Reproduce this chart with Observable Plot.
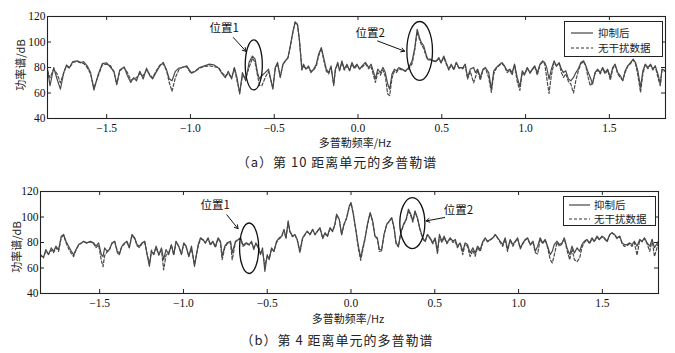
<!DOCTYPE html>
<html><head><meta charset="utf-8">
<script src="https://cdn.jsdelivr.net/npm/d3@7"></script>
<script src="https://cdn.jsdelivr.net/npm/@observablehq/plot@0.6"></script>
<style>
body{margin:0;background:#fff;}
#wrap{position:relative;width:675px;height:353px;background:#fff;overflow:hidden;}
.abs{position:absolute;}
.cjk{font-family:"Noto Sans CJK SC","Noto Sans",sans-serif;color:#222;}
.ytitle{width:100px;height:16px;line-height:16px;text-align:center;font-size:11px;transform:rotate(-90deg);}
.xtitle{width:200px;text-align:center;font-size:11px;line-height:14px;}
.cap{width:400px;text-align:center;font-size:13px;letter-spacing:1px;line-height:16px;}
.legend{border:1px solid #222;background:#fff;}
.legend .row{position:absolute;left:0;height:12px;line-height:12px;font-size:10.5px;}
</style></head>
<body><div id="wrap"></div>
<script>
// ---------- panel (a): range cell 10 ----------
const freqA = [-1.853,-1.838,-1.816,-1.796,-1.776,-1.756,-1.74,-1.722,-1.702,-1.676,-1.656,-1.636,-1.616,-1.596,-1.576,-1.55,-1.526,-1.5,-1.476,-1.456,-1.44,-1.422,-1.396,-1.376,-1.356,-1.34,-1.322,-1.302,-1.282,-1.262,-1.242,-1.226,-1.206,-1.182,-1.162,-1.142,-1.126,-1.11,-1.09,-1.07,-1.046,-1.022,-0.996,-0.972,-0.946,-0.916,-0.886,-0.856,-0.832,-0.812,-0.792,-0.774,-0.754,-0.738,-0.722,-0.706,-0.69,-0.67,-0.65,-0.63,-0.614,-0.6,-0.588,-0.574,-0.554,-0.534,-0.508,-0.494,-0.48,-0.464,-0.448,-0.434,-0.418,-0.404,-0.388,-0.375,-0.361,-0.349,-0.335,-0.325,-0.311,-0.295,-0.281,-0.265,-0.249,-0.235,-0.219,-0.205,-0.189,-0.175,-0.161,-0.145,-0.135,-0.121,-0.11,-0.096,-0.082,-0.066,-0.05,-0.036,-0.022,-0.006,0.01,0.024,0.044,0.064,0.078,0.094,0.104,0.118,0.133,0.149,0.163,0.177,0.189,0.203,0.217,0.229,0.243,0.263,0.283,0.303,0.323,0.339,0.353,0.367,0.378,0.392,0.406,0.416,0.432,0.452,0.468,0.482,0.496,0.512,0.526,0.542,0.556,0.572,0.586,0.602,0.626,0.64,0.654,0.67,0.69,0.7,0.714,0.73,0.746,0.76,0.78,0.796,0.81,0.826,0.846,0.86,0.874,0.89,0.906,0.92,0.934,0.95,0.966,0.98,0.994,1.01,1.026,1.04,1.054,1.07,1.086,1.102,1.114,1.126,1.14,1.154,1.17,1.184,1.2,1.214,1.226,1.24,1.256,1.27,1.286,1.3,1.314,1.33,1.346,1.36,1.37,1.386,1.4,1.414,1.43,1.446,1.46,1.474,1.49,1.506,1.52,1.534,1.55,1.566,1.58,1.594,1.61,1.626,1.642,1.656,1.67,1.686,1.7,1.714,1.73,1.746,1.76,1.774,1.79,1.804,1.814,1.835];
const suppressedA = [78.7,65.7,80,71,63,76,82,80,84.7,85.2,84,84.4,81.3,76,62.3,74.8,83,83.6,80,77,67,78,80.5,73.5,68.3,72,69.6,77,71,79.5,73.5,71,76,81.3,84,78,71,69.6,77,79.5,80,81.3,76,77,80,81.3,82.6,81.8,79.5,75.3,72,77,71,80,72,59.2,76,69.6,84,89,86.5,76,71,73.5,76,78.7,63,80,84,72,82.6,85.2,87.8,97,108.6,115.8,113.8,100.8,78.7,82.6,78.7,81.3,76,78.7,82.6,90.4,95.6,87.8,78.7,76,81.3,65.7,78.7,84,77.4,85.2,78.7,82.6,77.4,84,80,82.6,78.7,81.3,84,80,82.6,76,71,78.7,76,80,76,67,63,74.8,78.7,77.4,80,78.7,77.4,80,85.2,95.6,110,103.4,99.5,97,90.4,86.5,86.5,85.2,85.2,87.8,84,89,84,78.7,82.6,78.7,84,80,80,82.6,72.2,78.7,80,76,78.7,72.2,78.7,80,76,63,77.4,80,82.6,83.9,81.3,77.4,78.7,76,82.6,72.2,64.9,77.4,74.8,80,76,78.7,81.3,76,82.6,85.2,83.9,80,70.9,78.7,85.2,81.3,83.9,78.7,76,77.4,70.9,69.6,72.2,76,78.7,83.9,85.2,81.3,77.4,72.2,67,76,78.7,76,80,76,78.7,72.2,80,82.6,76,73.5,69.6,77.4,81.3,83.9,86.5,83.9,77.4,64.4,77.4,82.6,80,82.6,78.7,81.3,74.8,67,78.7,77.4];
const cleanA = [77.4,72,78.7,75,68,76,81,79.5,84,84.7,83.6,83,80,75,64,73.5,82,82.6,81.3,76,66.5,77.4,80,76,70,71,72,75.3,73.5,78,74.3,72,77,82,83,77.4,68,61.3,72,78,80.5,80.5,75.3,77,79.5,80.8,81.3,80.5,80,76,73.5,75,72,79.5,69.6,60.5,73.5,72,80,87.3,84,74,66,65.7,72,77,64,79,83,73,82,85,87.5,96.5,108,115.5,113.5,100.5,78,81,79,80,77,78,81,89,95,86,77,75,80,67,78,83,78,84,78,81,78,83,79,81.5,79,80,83,79,81,73,68.3,76,74,78,73,59.2,58,72,77,76,79,78,77,79,83,94,108,102,98,95,89,86,86,85,84.5,87,83.5,88,83,78,82,78,83.5,79.5,79,82,70.9,77,68,72,78,70,78,79.5,72,60.5,75,79.5,82,83,81,76,78,74,82,69,62,76,74,79.5,75.5,78,81,74,82,84.5,83,72,59.7,74,84,81,83,76,72.2,75,69,67,60,70,77,83,84.5,81,74,65.7,68.3,75,78,75,79.5,75,78,70,79,82,75,72,70,76,81,83,86,83,74,60.5,75,82,79,82,78,81,72,65.7,78,77];
// ---------- panel (b): range cell 4 ----------
const freqB = [-1.852,-1.835,-1.821,-1.805,-1.789,-1.775,-1.761,-1.745,-1.729,-1.715,-1.701,-1.685,-1.669,-1.655,-1.641,-1.625,-1.61,-1.596,-1.576,-1.556,-1.536,-1.522,-1.506,-1.49,-1.48,-1.47,-1.456,-1.442,-1.426,-1.41,-1.394,-1.382,-1.367,-1.351,-1.337,-1.323,-1.307,-1.291,-1.277,-1.263,-1.247,-1.231,-1.217,-1.203,-1.191,-1.177,-1.163,-1.147,-1.131,-1.118,-1.104,-1.088,-1.072,-1.058,-1.044,-1.028,-1.012,-0.998,-0.984,-0.968,-0.952,-0.934,-0.912,-0.898,-0.884,-0.869,-0.853,-0.839,-0.825,-0.809,-0.793,-0.779,-0.769,-0.753,-0.739,-0.719,-0.709,-0.689,-0.673,-0.659,-0.645,-0.624,-0.608,-0.594,-0.58,-0.568,-0.554,-0.54,-0.528,-0.514,-0.5,-0.488,-0.474,-0.46,-0.444,-0.428,-0.414,-0.4,-0.388,-0.375,-0.365,-0.349,-0.335,-0.321,-0.305,-0.289,-0.275,-0.261,-0.245,-0.229,-0.215,-0.201,-0.185,-0.169,-0.155,-0.141,-0.125,-0.11,-0.096,-0.086,-0.07,-0.056,-0.042,-0.026,-0.01,0,0.014,0.03,0.044,0.058,0.07,0.084,0.098,0.114,0.129,0.143,0.157,0.169,0.183,0.197,0.213,0.229,0.243,0.257,0.269,0.283,0.297,0.313,0.329,0.343,0.357,0.369,0.382,0.396,0.412,0.428,0.442,0.456,0.472,0.488,0.502,0.516,0.528,0.542,0.556,0.572,0.592,0.608,0.622,0.635,0.651,0.667,0.681,0.695,0.711,0.727,0.741,0.755,0.771,0.787,0.801,0.815,0.831,0.847,0.861,0.875,0.89,0.906,0.92,0.934,0.95,0.966,0.98,0.994,1.01,1.026,1.04,1.054,1.07,1.086,1.1,1.114,1.129,1.143,1.159,1.173,1.189,1.201,1.213,1.229,1.245,1.259,1.273,1.289,1.305,1.319,1.333,1.349,1.365,1.378,1.392,1.408,1.424,1.438,1.452,1.468,1.482,1.498,1.512,1.528,1.544,1.558,1.572,1.588,1.604,1.618,1.631,1.647,1.663,1.677,1.691,1.707,1.723,1.737,1.751,1.767,1.783,1.797,1.811,1.835];
const suppressedB = [70.5,67.9,74.5,70.5,75.8,73.1,77.1,74.5,85,86.3,81,77.1,73.1,70.5,74.5,78.4,79.7,81,79.7,81,79.7,77.1,79.7,70.5,69,75.8,73.1,74.5,79.7,81,71.8,70.5,77.1,79.7,81,75.8,86.3,83.7,78.4,77.1,79.7,81,70.5,61.3,73.1,70.5,77.1,70.5,75.8,66.5,74.5,70.5,78.4,70.5,81,77.1,70.5,79.7,77.1,69.2,77.1,61.3,78.4,83.7,82.4,79.7,83.7,78.4,81,77.1,83.7,81,69.2,77.1,79.7,81,71.8,81,82.4,83.7,78,79.7,78.4,81,74.5,79.7,75.8,70.5,75.8,57.3,70.5,66.5,75.8,73.1,81,83.7,85,90.3,83.7,96.9,89,85,86.3,82.4,73.1,83.7,86.3,89,86.3,90.3,86.3,89,91.6,83.7,87.7,85,91.6,89,94.2,102.2,98.2,86.3,94.2,99.5,108.8,111.4,102.2,89,77.1,67.9,75.8,83.7,94.2,103.5,96.9,85,83.7,74.5,74.5,86.3,94.2,96.9,99.5,91.6,79.7,77.1,87.7,94.2,98.2,106.1,102.2,96.9,104.8,99.5,90.3,83.7,81,86.3,83.7,79.7,83.7,73.1,86.3,81,85,79.7,83.7,81,82.4,77.1,79.7,73.1,79.7,78.4,71.8,75.8,71.8,77.1,74.5,81,83.7,81,82.4,83.7,86.3,83.7,81,78.4,83.7,74.5,82.4,78.4,81,83.7,75.8,79.7,82.4,83.7,78.4,81,73.1,77.1,83.7,79.7,82.4,77.1,70.5,73.1,78.4,81,78.4,79.7,83.7,75.8,70.5,77.1,71.8,75.8,73.1,78.4,81,82.4,79.7,83.7,81,85,82.4,85,83.7,81,86.3,87.7,86.3,83.7,85,79.7,78.4,78.4,79.7,78.4,81,77.1,82.4,81,83.7,79.7,77.1,82.4,76,81];
const cleanB = [69,69.2,73,71,74,72,76,73,84,85.5,80,75,71.5,69,74,78,79.5,80.5,79.5,80.5,79,76,78,66,61,70,72.5,74,79.5,80.5,73,72,77,79,80,76,85.5,83,77.5,76,79,80,71,63,74,71,76,70,74,58.6,70,72,78,70,80.5,77,71,79,76.5,69,75,63,77,83,82,79.5,83,78,80.5,76,83,80,66.5,76,79,80,66.5,80.5,82,83,77,79,78,80,76,79,77,72,73,62,69,68,75,73,80,83,84.5,89.5,83,96,88.5,84.5,86,82,72,83,86,88.5,86,90,86,88.5,91,83,87,84.5,91,88.5,94,101.5,98,86,94,99,108,111,102,88.5,75,66,74,83,93.5,103,96.5,84.5,83,73,73.5,86,94,96.5,99,91,79,76.5,87,93.5,97.5,105,101,96,104,99,90,83,80.5,86,83,79,83,71,85,80,84,79,83,80,81,76,79,70.5,79,77,69,74,69.2,76,73,80,83,80.5,82,83.5,86,83.5,80,77,83,73,82,77,80.5,83,75,79,82,83,78,80.5,72,71,83,79,82,76,66.5,64,70,80,77,79,83,74,66.5,75,66.5,65,68,76,80,82,79,83,80.5,84.5,82,84.5,83,80.5,86,87.5,86,83,84.5,79,77,77.5,79,77,80,70,82,80.5,83,79,73,82,69,80];
// ---------- shared axes ----------
const xDomain = [-1.853, 1.835];
const yDomain = [40, 120];
const xTicks = [-1.5, -1, -0.5, 0, 0.5, 1, 1.5];
const yTicks = [40, 60, 80, 100, 120];
const seriesNames = ["抑制后", "无干扰数据"];
const yTitle = "功率谱/dB";
const xTitle = "多普勒频率/Hz";
const captions = ["（a）第 10 距离单元的多普勒谱", "（b）第 4 距离单元的多普勒谱"];
// ---------- annotations (data coordinates) ----------
const notesA = [{f: -0.798, db: 110.6, label: "位置1"}, {f: 0.072, db: 106.9, label: "位置2"}];
const arrowsA = [{f1: -0.744, d1: 103.5, f2: -0.668, d2: 92.6}, {f1: 0.117, d1: 100.8, f2: 0.278, d2: 92.8}];
const ellipsesA = [{f: -0.619, db: 81.6, rf: 0.051, rdb: 19.6}, {f: 0.371, db: 92.6, rf: 0.0765, rdb: 23.1}];
const notesB = [{f: -0.811, db: 109.3, label: "位置1"}, {f: 0.641, db: 104.9, label: "位置2"}];
const arrowsB = [{f1: -0.741, d1: 101.7, f2: -0.674, d2: 90.8}, {f1: 0.559, d1: 99.6, f2: 0.448, d2: 96.9}];
const ellipsesB = [{f: -0.605, db: 75.1, rf: 0.057, rdb: 19.8}, {f: 0.369, db: 94.8, rf: 0.0747, rdb: 20}];

const wrap = document.getElementById("wrap");
const lineColor = "#4a4a4a";
const serif = "'Liberation Serif', 'DejaVu Serif', serif";

function makePanel(cfg) {
  const {freq, sup, clean, top, mL, mR, mT, mB, H, notes, arrows, ellipses} = cfg;
  const W = 675;
  const innerW = W - mL - mR, innerH = H - mT - mB;
  const rowsS = freq.map((f, i) => ({f, v: sup[i]}));
  const rowsC = freq.map((f, i) => ({f, v: clean[i]}));
  const tickLen = 4;
  const plot = Plot.plot({
    width: W, height: H,
    marginLeft: mL, marginRight: mR, marginTop: mT, marginBottom: mB,
    style: {fontFamily: serif, fontSize: "11.5px", color: "#111", background: "transparent"},
    x: {domain: xDomain},
    y: {domain: yDomain},
    marks: [
      Plot.line(rowsC, {x: "f", y: "v", stroke: lineColor, strokeWidth: 1.2, strokeDasharray: "3,2"}),
      Plot.line(rowsS, {x: "f", y: "v", stroke: lineColor, strokeWidth: 1.2}),
      Plot.tickX(xTicks, {x: d => d, insetTop: innerH - tickLen, stroke: "#222"}),
      Plot.tickX(xTicks, {x: d => d, insetBottom: innerH - tickLen, stroke: "#222"}),
      Plot.tickY(yTicks, {y: d => d, insetRight: innerW - tickLen, stroke: "#222"}),
      Plot.tickY(yTicks, {y: d => d, insetLeft: innerW - tickLen, stroke: "#222"}),
      Plot.axisX({ticks: xTicks, tickSize: 0, tickPadding: 5, label: null, fontSize: 11.5, fontFamily: serif, fill: "#111"}),
      Plot.axisY({ticks: yTicks, tickSize: 0, tickPadding: 2, label: null, fontSize: 11.5, fontFamily: serif, fill: "#111"}),
      Plot.frame({stroke: "#222", strokeWidth: 1.1}),
      Plot.text(notes, {x: "f", y: "db", text: "label", fontSize: 11.5, fill: "#111", fontFamily: "'Noto Sans CJK SC', sans-serif"}),
      Plot.arrow(arrows, {x1: "f1", y1: "d1", x2: "f2", y2: "d2", stroke: "#111", strokeWidth: 1, headLength: 6})
    ]
  });
  const sx = plot.scale("x"), sy = plot.scale("y");
  d3.select(plot).append("g")
    .selectAll("ellipse").data(ellipses).join("ellipse")
    .attr("cx", d => sx.apply(d.f))
    .attr("cy", d => sy.apply(d.db))
    .attr("rx", d => Math.abs(sx.apply(d.f + d.rf) - sx.apply(d.f)))
    .attr("ry", d => Math.abs(sy.apply(d.db + d.rdb) - sy.apply(d.db)))
    .attr("fill", "none").attr("stroke", "#111").attr("stroke-width", 1.3);
  plot.style.position = "absolute";
  plot.style.left = "0px";
  plot.style.top = top + "px";
  wrap.appendChild(plot);
}

makePanel({freq: freqA, sup: suppressedA, clean: cleanA, top: 0, mL: 47, mR: 10, mT: 16, mB: 32, H: 150, notes: notesA, arrows: arrowsA, ellipses: ellipsesA});
makePanel({freq: freqB, sup: suppressedB, clean: cleanB, top: 175, mL: 40, mR: 17, mT: 16, mB: 32, H: 150, notes: notesB, arrows: arrowsB, ellipses: ellipsesB});

function addDiv(cls, text, css) {
  const d = document.createElement("div");
  d.className = "abs cjk " + cls;
  d.textContent = text;
  Object.assign(d.style, css);
  wrap.appendChild(d);
  return d;
}
// axis titles
addDiv("ytitle", yTitle, {left: (20 - 50) + "px", top: (65 - 8) + "px"});
addDiv("ytitle", yTitle, {left: (16 - 50) + "px", top: (247 - 8) + "px"});
addDiv("xtitle", xTitle, {left: (355 - 100) + "px", top: (142 - 7) + "px"});
addDiv("xtitle", xTitle, {left: (348 - 100) + "px", top: (318 - 7) + "px"});
// captions
addDiv("cap", captions[0], {left: (337 - 200) + "px", top: (162 - 8) + "px"});
addDiv("cap", captions[1], {left: (337 - 200) + "px", top: (340 - 8) + "px"});
// legends
function legend(left, top, w, h, rowYs, sampleX1, sampleX2, textX) {
  const box = document.createElement("div");
  box.className = "abs legend cjk";
  Object.assign(box.style, {left: left + "px", top: top + "px", width: w + "px", height: h + "px"});
  seriesNames.forEach((name, i) => {
    const row = document.createElement("div");
    row.className = "row";
    row.style.top = (rowYs[i] - 6) + "px";
    row.style.width = w + "px";
    row.innerHTML = `<svg width="${w}" height="12" style="position:absolute;left:0;top:0"><line x1="${sampleX1}" x2="${sampleX2}" y1="6" y2="6" stroke="#333" stroke-width="1.1" ${i ? 'stroke-dasharray="3,2"' : ''}/></svg><span style="position:absolute;left:${textX}px;top:0">${name}</span>`;
    box.appendChild(row);
  });
  wrap.appendChild(box);
}
legend(564, 21, 97, 34, [11, 26], 6, 28, 33);
legend(563, 196, 91, 28, [8, 22], 5, 26, 30);
</script></body></html>
